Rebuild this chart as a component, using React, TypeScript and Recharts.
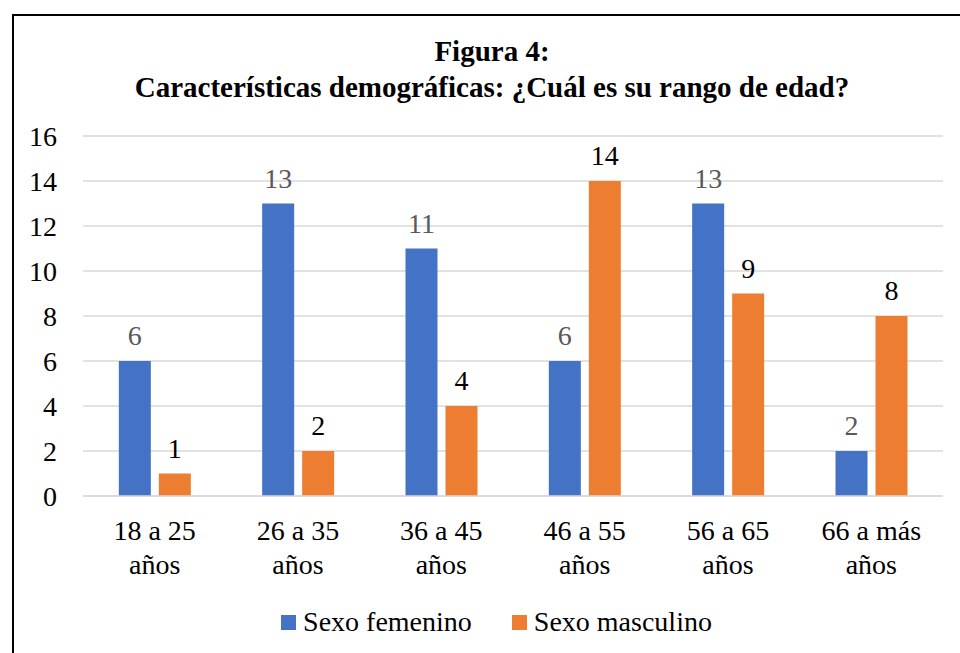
import React from 'react';
import { BarChart, Bar, XAxis, YAxis, CartesianGrid, LabelList } from 'recharts';

const categories = ['18 a 25 años', '26 a 35 años', '36 a 45 años', '46 a 55 años', '56 a 65 años', '66 a más años'];
const femenino = [6, 13, 11, 6, 13, 2];
const masculino = [1, 2, 4, 14, 9, 8];
const yTicks = [0, 2, 4, 6, 8, 10, 12, 14, 16];
const seriesNames = ['Sexo femenino', 'Sexo masculino'];
const seriesColors = ['#4472C4', '#ED7D31'];

const data = categories.map((c, i) => ({ name: c, fem: femenino[i], mas: masculino[i] }));

// no serif font in the sandbox, falls back to Liberation Sans
const FONT = "'Liberation Serif', 'Times New Roman', 'Liberation Sans', sans-serif";

function XTick({ x, y, payload }: any) {
  const label: string = payload.value;
  const cut = label.lastIndexOf(' ');
  return (
    <text x={x} y={y} textAnchor="middle" style={{ fontFamily: FONT }} fontSize={28} fill="#000">
      <tspan x={x} dy={44}>{label.slice(0, cut)}</tspan>
      <tspan x={x} dy={34}>{label.slice(cut + 1)}</tspan>
    </text>
  );
}

export default function App() {
  return (
    <div
      style={{
        position: 'absolute',
        left: 0,
        top: 0,
        width: 960,
        height: 653,
        overflow: 'hidden',
        background: '#fff',
        fontFamily: FONT,
      }}
    >
      <div
        style={{
          position: 'absolute',
          left: 12,
          top: 14,
          width: 1000,
          height: 700,
          border: '2px solid #000',
        }}
      />
      <div
        style={{
          position: 'absolute',
          left: 0,
          top: 33,
          width: 984,
          textAlign: 'center',
          fontWeight: 'bold',
          fontSize: 29,
          lineHeight: '36px',
          color: '#000',
        }}
      >
        Figura 4:
        <br />
        Características demográficas: ¿Cuál es su rango de edad?
      </div>
      <div style={{ position: 'absolute', left: 0, top: 0 }}>
        <BarChart
          width={960}
          height={653}
          data={data}
          margin={{ top: 136, right: 17, bottom: 67, left: 23 }}
          barCategoryGap="25%"
          barGap={8}
          style={{ fontFamily: FONT }}
        >
          <CartesianGrid vertical={false} stroke="#D9D9D9" strokeWidth={1.5} />
          <XAxis
            dataKey="name"
            height={90}
            axisLine={{ stroke: '#D9D9D9', strokeWidth: 1.5 }}
            tickLine={false}
            tickSize={0}
            tickMargin={0}
            tick={<XTick />}
            interval={0}
          />
          <YAxis
            width={60}
            domain={[0, 16]}
            ticks={yTicks}
            axisLine={false}
            tickLine={false}
            tickSize={0}
            tickMargin={26}
            tick={{ fill: '#000', fontSize: 28, style: { fontFamily: FONT } }}
          />
          <Bar dataKey="fem" name={seriesNames[0]} fill={seriesColors[0]} isAnimationActive={false}>
            <LabelList dataKey="fem" position="top" offset={16} fill="#595959" fontSize={28} style={{ fontFamily: FONT }} />
          </Bar>
          <Bar dataKey="mas" name={seriesNames[1]} fill={seriesColors[1]} isAnimationActive={false}>
            <LabelList dataKey="mas" position="top" offset={16} fill="#000" fontSize={28} style={{ fontFamily: FONT }} />
          </Bar>
        </BarChart>
      </div>
      <div
        style={{
          position: 'absolute',
          left: 0,
          width: 993,
          top: 604,
          display: 'flex',
          justifyContent: 'center',
          alignItems: 'center',
          fontSize: 28,
          lineHeight: '36px',
          color: '#000',
        }}
      >
        {seriesNames.map((n, i) => (
          <div key={n} style={{ display: 'flex', alignItems: 'center', marginRight: i === 0 ? 40 : 0 }}>
            <span style={{ display: 'inline-block', width: 15, height: 15, background: seriesColors[i], marginRight: 7 }} />
            {n}
          </div>
        ))}
      </div>
    </div>
  );
}
